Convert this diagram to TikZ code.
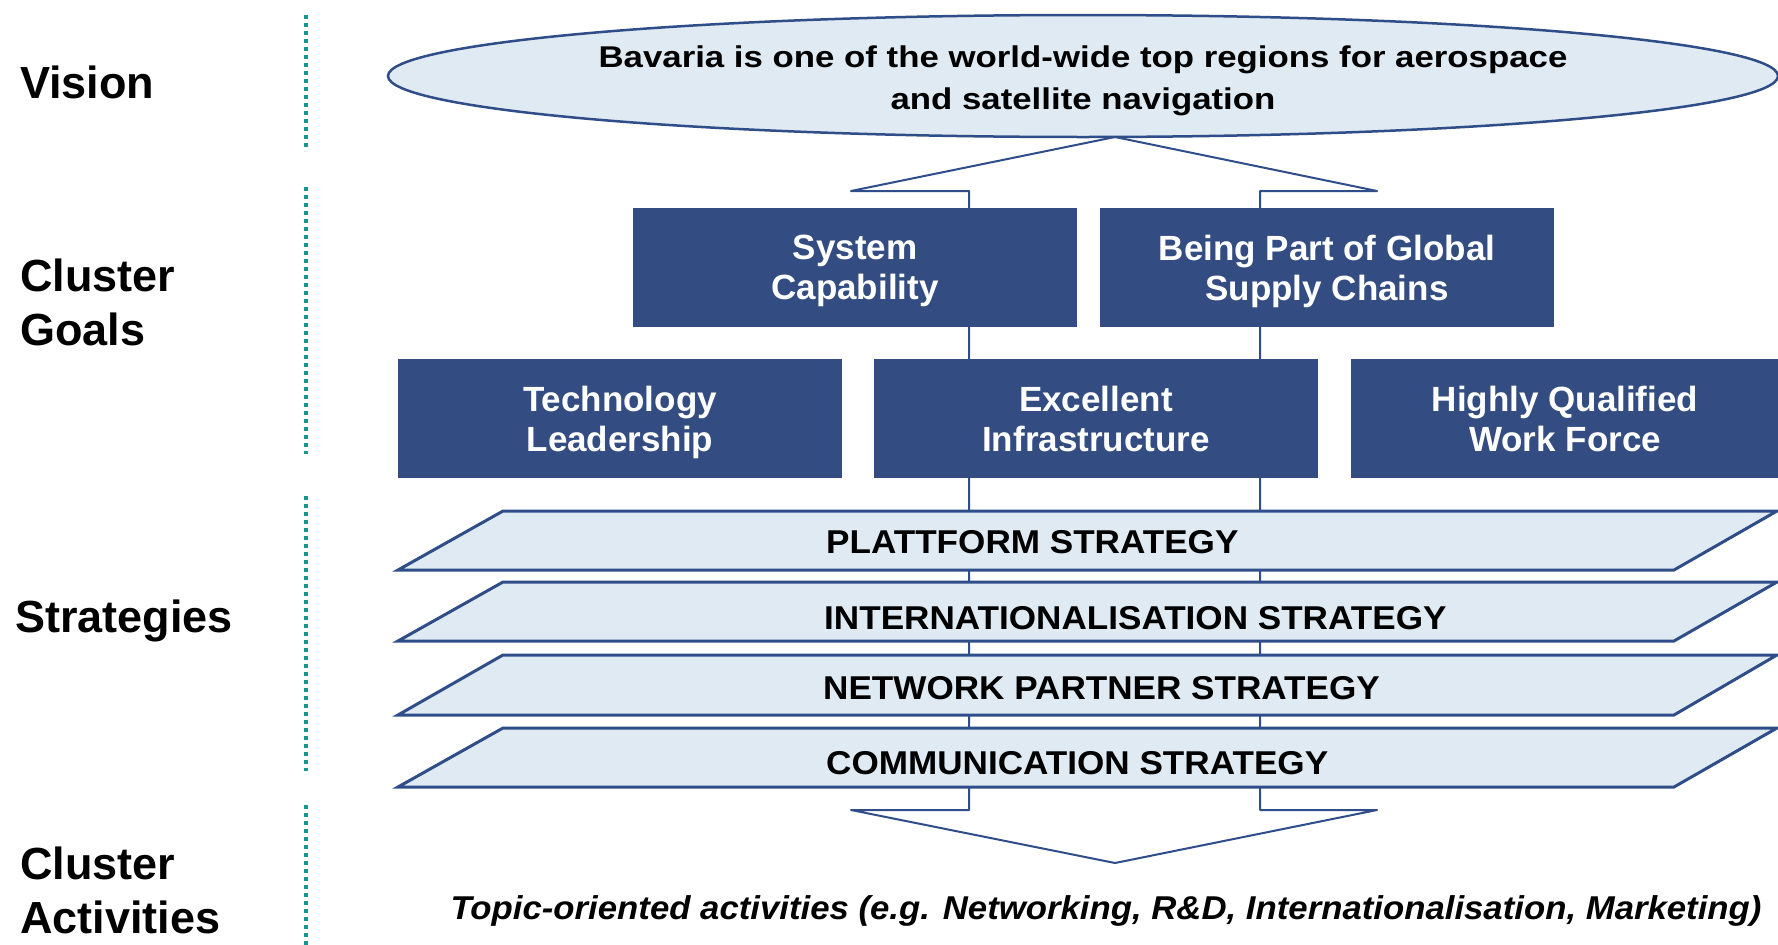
\documentclass[tikz,border=0pt]{standalone}
\usepackage{fontspec}
\setmainfont{Liberation Sans}
\newfontfamily\visionfont[FakeStretch=1.16]{Liberation Sans}
\newfontfamily\stratfont[FakeStretch=1.064]{Liberation Sans}
\newfontfamily\actfont[FakeStretch=1.053]{Liberation Sans}
\newcommand\nodepth[1]{\raisebox{0pt}[\height][0pt]{#1}}
\definecolor{boxblue}{RGB}{51,77,130}
\definecolor{edgeblue}{RGB}{47,77,137}
\definecolor{lightfill}{RGB}{223,234,242}
\definecolor{dotteal}{RGB}{20,150,145}
\usetikzlibrary{shapes.geometric}
\tikzset{
  goal/.style={fill=boxblue, draw=none, text=white, font=\bfseries\fontsize{35}{40}\selectfont, align=center, inner sep=0pt, minimum height=119pt},
  strat/.style={fill=lightfill, draw=edgeblue, line width=3pt, line join=miter},
  strattext/.style={font=\stratfont\bfseries\fontsize{33}{38}\selectfont, anchor=west, inner sep=0pt},
  layer/.style={font=\bfseries\fontsize{45}{54}\selectfont, align=left, anchor=north west, inner sep=0pt},
  divider/.style={draw=dotteal, line width=4pt, dash pattern=on 4pt off 4pt},
  arrowshape/.style={fill=white, draw=edgeblue, line width=2pt, line join=round},
  visionshape/.style={ellipse, fill=lightfill, draw=edgeblue, line width=2.5pt, minimum width=1390pt, minimum height=122pt, inner sep=0pt}
}
\begin{document}
\begin{tikzpicture}[x=1pt,y=-1pt]
\useasboundingbox (0,0) rectangle (1778,945);
% left layer labels
\node[layer] (lvision) at (20,66) {Vision};
\node[layer] (lgoals) at (20,258.5) {Cluster\\Goals};
\node[layer] (lstrat) at (15,599.5) {Strategies};
\node[layer] (lact) at (20,847) {Cluster\\Activities};
% dotted dividers
\draw[divider] (306,15) -- (306,151);
\draw[divider] (306,187) -- (306,454);
\draw[divider] (306,496) -- (306,771);
\draw[divider] (306,805) -- (306,945);
% double block arrow behind everything
\coordinate (atop) at (1115,137);
\coordinate (abot) at (1115,863);
\draw[arrowshape] (atop) -- (1377,191) -- (1260,191) -- (1260,810) -- (1377,810) -- (abot)
  -- (851,810) -- (969,810) -- (969,191) -- (851,191) -- cycle;
% vision
\node[visionshape] (vision) at (1083,76) {};
\node[font=\visionfont\bfseries\fontsize{30}{42}\selectfont, align=center, inner sep=0pt] (visiontext) at (1083,78)
  {Bavaria is one of the world-wide top regions for aerospace\\\nodepth{and satellite navigation}};
% goals
\node[goal, minimum width=444pt] (sys) at (855,267.5) {System\\\nodepth{Capability}};
\node[goal, minimum width=454pt] (glob) at (1327,267.5) {Being Part of Global\\\nodepth{Supply Chains}};
\node[goal, minimum width=444pt] (tech) at (620,418.5) {Technology\\\nodepth{Leadership}};
\node[goal, minimum width=444pt] (infra) at (1096,418.5) {Excellent\\\nodepth{Infrastructure}};
\node[goal, minimum width=428pt] (work) at (1565,418.5) {Highly Qualified\\\nodepth{Work Force}};
% strategies
\draw[strat] (398,570) -- (503,511) -- (1777,511) -- (1674,570) -- cycle;
\node[strattext] (s1) at (826,542) {PLATTFORM STRATEGY};
\draw[strat] (398,641) -- (503,582) -- (1777,582) -- (1674,641) -- cycle;
\node[strattext] (s2) at (824,618) {INTERNATIONALISATION STRATEGY};
\draw[strat] (398,715) -- (503,655) -- (1777,655) -- (1674,715) -- cycle;
\node[strattext] (s3) at (823,688) {NETWORK PARTNER STRATEGY};
\draw[strat] (398,787) -- (503,728) -- (1777,728) -- (1674,787) -- cycle;
\node[strattext] (s4) at (826,763) {COMMUNICATION STRATEGY};
% activities
\node[font=\actfont\bfseries\itshape\fontsize{33}{38}\selectfont, inner sep=0pt, anchor=base] (acts) at (1106,919)
  {Topic-oriented activities (e.g. Networking, R\&D, Internationalisation, Marketing)};
\end{tikzpicture}
\end{document}
